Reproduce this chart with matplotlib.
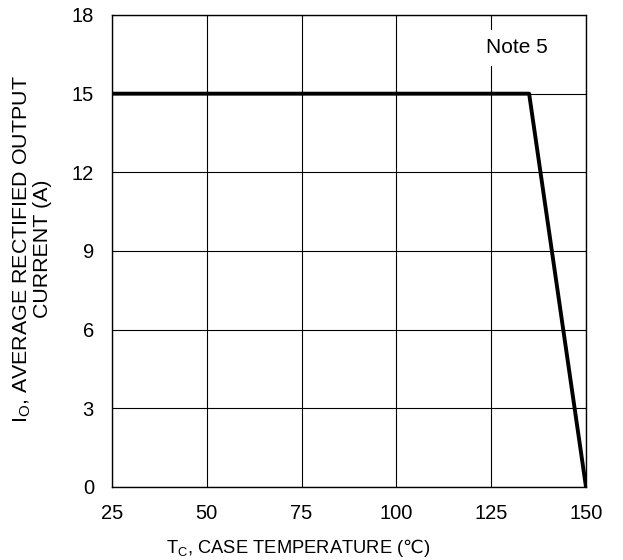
import matplotlib
matplotlib.use("Agg")
import matplotlib.pyplot as plt

plt.rcParams['font.family'] = ['Liberation Sans', 'DejaVu Sans']
plt.rcParams['mathtext.default'] = 'regular'

# derating curve
temp_c = [25, 135, 150]
current_a = [15, 15, 0]
x_ticks = [25, 50, 75, 100, 125, 150]
y_ticks = [0, 3, 6, 9, 12, 15, 18]

fig = plt.figure(figsize=(6.23, 5.6), dpi=100)
ax = fig.add_axes([112/623, 1-487/560, 474/623, 472/560])

ax.plot(temp_c, current_a, color='black', lw=2.8, solid_capstyle='butt', zorder=3)

ax.set_xlim(25, 150)
ax.set_ylim(0, 18)
ax.set_xticks(x_ticks)
ax.set_yticks(y_ticks)
ax.grid(True, color='black', lw=0.8)
ax.tick_params(length=0, labelsize=14.5)
ax.tick_params(axis='x', pad=12.5)
ax.tick_params(axis='y', pad=13)
for s in ax.spines.values():
    s.set_linewidth(1.0)

ax.text(131.8, 16.75, 'Note 5', fontsize=15, ha='center', va='center',
        bbox=dict(facecolor='white', edgecolor='none', pad=6), zorder=4)

fig.text(298/623, 1-548/560, r'T$_{C}$, CASE TEMPERATURE ($\mathrm{℃}$)',
         fontsize=13.2, ha='center', va='center')
fig.text(31.5/623, 1-249/560, 'I$_{O}$, AVERAGE RECTIFIED OUTPUT\nCURRENT (A)',
         fontsize=15.4, ha='center', va='center', rotation=90,
         multialignment='center', linespacing=1.0)

fig.savefig('out.png', dpi=100)
